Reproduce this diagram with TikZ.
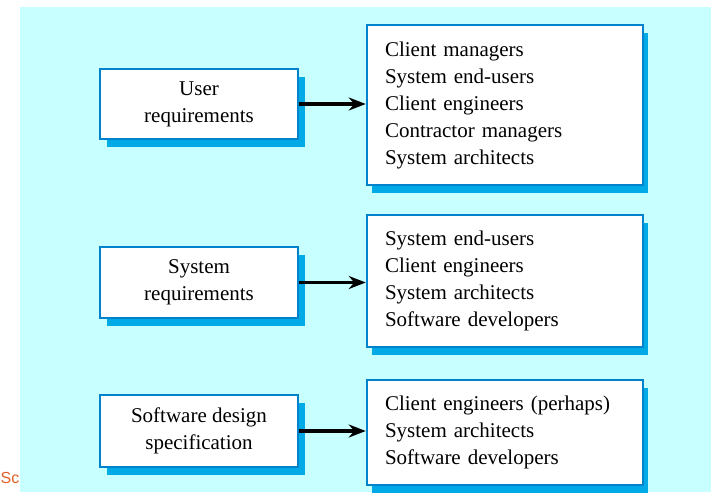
\documentclass[tikz,border=0pt]{standalone}
\usepackage{fontspec}
\setmainfont{Liberation Serif}
\newfontfamily\logofont{Liberation Sans}
\usetikzlibrary{arrows.meta,shadows}
\definecolor{bgcyan}{RGB}{200,255,255}
\definecolor{boxblue}{RGB}{0,130,205}
\definecolor{shadblue}{RGB}{0,170,230}
\definecolor{logoorange}{RGB}{225,95,40}
\tikzset{
  docbox/.style={draw=boxblue, line width=2.5pt, fill=white,
    general shadow={shadow xshift=7pt, shadow yshift=-8pt, fill=shadblue},
    font=\fontsize{21}{27}\selectfont, align=center, inner sep=0pt},
  listbox/.style={draw=boxblue, line width=2.5pt, fill=white,
    general shadow={shadow xshift=5pt, shadow yshift=-8pt, fill=shadblue},
    font=\fontsize{21}{27}\selectfont, align=left, text width=240pt,
    inner xsep=18pt, inner ysep=0pt, minimum width=276pt},
  arr/.style={line width=3.5pt, -{Stealth[length=17pt,width=13pt]}}
}
\begin{document}
\begin{tikzpicture}[x=1pt,y=-1pt]
\useasboundingbox (0,0) rectangle (711,492);
\node[anchor=north west, text=logoorange, font=\logofont\fontsize{16}{16}\selectfont, inner sep=0pt] (logo) at (0.5,472) {Sc};
\fill[bgcyan] (20,7) rectangle (711,492);
% left boxes
\node[docbox, minimum width=198pt, minimum height=70pt] (ur) at (199,104) {User\\requirements};
\node[docbox, minimum width=198pt, minimum height=71pt] (sr) at (199,282.5) {System\\requirements};
\node[docbox, minimum width=198pt, minimum height=72pt] (sd) at (199,431) {Software design\\specification};
% right boxes
\node[listbox, minimum height=160pt] (l1) at (505,105) {Client managers\\System end-users\\Client engineers\\Contractor managers\\System architects};
\node[listbox, minimum height=132pt] (l2) at (505,281) {System end-users\\Client engineers\\System architects\\Software developers};
\node[listbox, minimum height=105pt] (l3) at (505,432.5) {Client engineers (perhaps)\\System architects\\Software developers};
% arrows
\draw[arr] (ur.east) -- (ur.east -| l1.west);
\draw[arr] (sr.east) -- (sr.east -| l2.west);
\draw[arr] (sd.east) -- (sd.east -| l3.west);
\end{tikzpicture}
\end{document}
